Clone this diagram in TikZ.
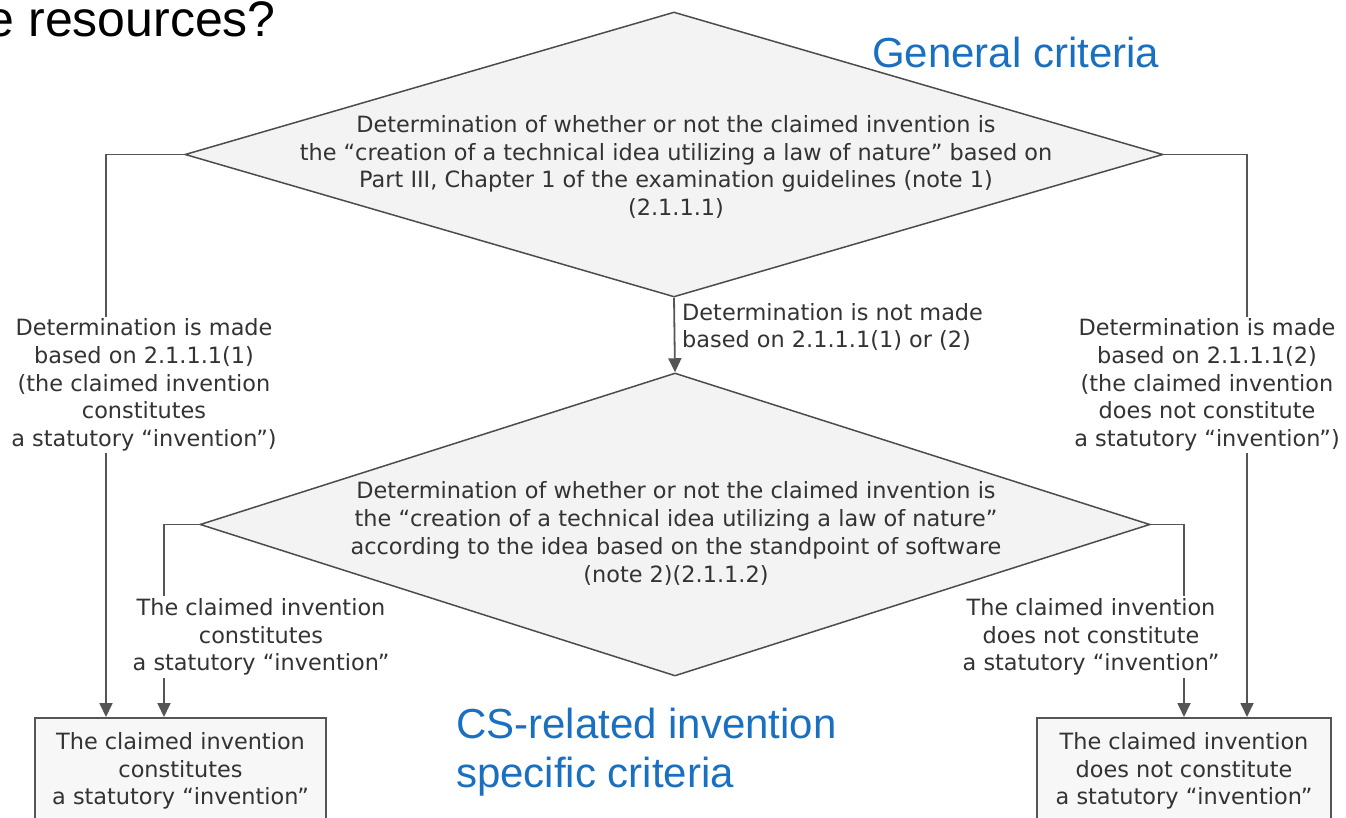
\documentclass[tikz,border=0pt]{standalone}
\usepackage{fontspec}
\setmainfont{DejaVu Sans}
\newfontfamily\arialfont{Liberation Sans}
\usetikzlibrary{shapes.geometric,arrows.meta}
\definecolor{txt}{HTML}{333333}
\definecolor{ln}{HTML}{555555}
\definecolor{dfill}{HTML}{F3F3F3}
\definecolor{pblue}{HTML}{1A70C0}
\tikzset{
  dia/.style={diamond, draw=ln!90!black, line width=1.5pt, fill=dfill, inner sep=0pt},
  dtext/.style={align=center, text=txt, font=\fontsize{22.4}{27.8}\selectfont},
  lbl/.style={align=center, text=txt, font=\fontsize{22.4}{27.8}\selectfont, fill=white, inner sep=2pt},
  res/.style={draw=ln, line width=2pt, fill=white!97!black, minimum width=291pt, minimum height=106pt, inner sep=0pt, align=center, text=txt, font=\fontsize{22.4}{27.8}\selectfont},
  conn/.style={draw=ln, line width=1.8pt},
  arr/.style={conn, -{Triangle[length=14pt,width=13pt]}},
  big/.style={text=pblue, font=\arialfont\fontsize{42}{49}\selectfont, inner sep=0pt}
}
\begin{document}
\begin{tikzpicture}[x=1pt,y=-1pt]
\useasboundingbox (0,0) rectangle (1346,818);
% title fragment
\node[anchor=base east, inner sep=0pt, font=\arialfont\fontsize{50}{60}\selectfont] (ttl) at (276,37) {e resources?};
% diamonds
\node[dia, minimum width=978pt, minimum height=285pt] (d1) at (674,154.5) {};
\node[dtext] (t1) at (676,167) {Determination of whether or not the claimed invention is\\the “creation of a technical idea utilizing a law of nature” based on\\Part III, Chapter 1 of the examination guidelines (note 1)\\(2.1.1.1)};
\node[dia, minimum width=950pt, minimum height=303pt] (d2) at (675,524.5) {};
\node[dtext] (t2) at (676,533.5) {Determination of whether or not the claimed invention is\\the “creation of a technical idea utilizing a law of nature”\\according to the idea based on the standpoint of software\\(note 2)(2.1.1.2)};
% result boxes
\node[res, minimum width=291pt] (b1) at (180.5,771) {The claimed invention\\constitutes\\a statutory “invention”};
\node[res, minimum width=294pt] (b2) at (1184,771) {The claimed invention\\does not constitute\\a statutory “invention”};
% connectors
\draw[arr] (d1.west) -| ([xshift=72pt]b1.north west);
\draw[arr] (d2.west) -| ([xshift=130pt]b1.north west);
\draw[arr] (d1.east) -| ([xshift=211pt]b2.north west);
\draw[arr] (d2.east) -| ([xshift=148pt]b2.north west);
\draw[arr] (d1.south) -- (d2.north);
% labels
\node[lbl] (l1) at (144,385) {Determination is made\\based on 2.1.1.1(1)\\(the claimed invention\\constitutes\\a statutory “invention”)};
\node[lbl] (l2) at (1207,385) {Determination is made\\based on 2.1.1.1(2)\\(the claimed invention\\does not constitute\\a statutory “invention”)};
\node[lbl, anchor=west, align=left, fill=none] (l3) at (680,327) {Determination is not made\\based on 2.1.1.1(1) or (2)};
\node[lbl] (l4) at (261,637) {The claimed invention\\constitutes\\a statutory “invention”};
\node[lbl] (l5) at (1091,637) {The claimed invention\\does not constitute\\a statutory “invention”};
% big blue captions
\node[big, anchor=base west] (g1) at (872,68) {General criteria};
\node[big, anchor=base west, align=left] (g2) at (456,787) {CS-related invention\\specific criteria};
\end{tikzpicture}
\end{document}
